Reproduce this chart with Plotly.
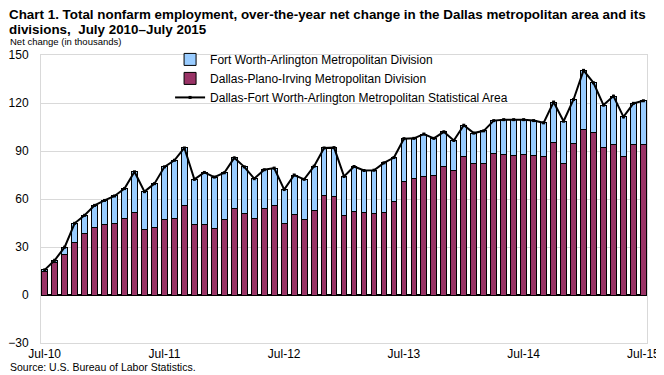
import pandas as pd
import plotly.graph_objects as go

months = [d.strftime("%b-%y") for d in pd.date_range("2010-07-01", "2015-07-01", freq="MS")]
tick_labels = ["Jul-10", "Jul-11", "Jul-12", "Jul-13", "Jul-14", "Jul-15"]

dallas = [14.7, 20.2, 25.2, 33.0, 38.2, 41.9, 43.8, 44.4, 48.1, 51.8, 40.7, 41.9, 46.9, 48.1, 56.2,
          43.8, 43.8, 41.7, 46.9, 54.3, 51.0, 47.9, 54.3, 55.7, 44.4, 50.6, 47.5, 53.1, 62.4, 61.7,
          50.0, 52.4, 51.8, 51.0, 51.8, 58.6, 71.0, 72.9, 74.1, 74.7, 80.3, 77.8, 86.5, 82.2, 82.2,
          88.4, 87.8, 87.1, 87.8, 87.1, 86.5, 95.2, 82.2, 94.6, 103.2, 101.4, 92.1, 94.0, 86.5, 94.0, 94.0]

fort_worth = [1.0, 1.5, 4.7, 11.8, 11.6, 14.1, 15.3, 17.5, 18.4, 25.2, 23.9, 27.7, 33.2, 36.1, 35.7,
              28.5, 32.8, 32.0, 29.5, 31.4, 29.1, 24.8, 24.0, 23.6, 21.5, 24.4, 24.8, 27.4, 29.5, 30.4,
              24.1, 27.9, 26.0, 27.0, 30.8, 27.3, 26.7, 25.0, 26.5, 23.2, 21.7, 18.8, 19.6, 19.0, 20.4,
              20.6, 21.8, 22.5, 21.8, 21.9, 21.1, 25.4, 26.4, 27.6, 37.2, 31.2, 26.6, 30.3, 24.8, 25.8, 27.4]

total = [15.7, 21.7, 29.9, 44.8, 49.8, 56.0, 59.1, 61.9, 66.5, 77.0, 64.6, 69.6, 80.1, 84.2, 91.9,
         72.3, 76.6, 73.7, 76.4, 85.7, 80.1, 72.7, 78.3, 79.3, 65.9, 75.0, 72.3, 80.5, 91.9, 92.1,
         74.1, 80.3, 77.8, 78.0, 82.6, 85.9, 97.7, 97.9, 100.6, 97.9, 102.0, 96.6, 106.1, 101.2, 102.6,
         109.0, 109.6, 109.6, 109.6, 109.0, 107.6, 120.6, 108.6, 122.2, 140.4, 132.6, 118.7, 124.3, 111.3, 119.8, 121.4]

FONT = "Liberation Sans, Arial, sans-serif"

fig = go.Figure()
fig.add_trace(go.Bar(x=months, y=dallas, name="Dallas-Plano-Irving Metropolitan Division",
                     marker=dict(color="#993366", line=dict(color="black", width=1)),
                     legendrank=2))
fig.add_trace(go.Bar(x=months, y=fort_worth, name="Fort Worth-Arlington Metropolitan Division",
                     marker=dict(color="#99CCFF", line=dict(color="black", width=1)),
                     legendrank=1))
fig.add_trace(go.Scatter(x=months, y=total, mode="lines+markers",
                         name="Dallas-Fort Worth-Arlington Metropolitan Statistical Area",
                         line=dict(color="black", width=2),
                         marker=dict(color="black", size=3, symbol="square"),
                         legendrank=3))

# The page body has an 8px margin, so the figure is sized to fill the rest of the window.
fig.update_layout(
    width=656, height=367,
    margin=dict(l=33, r=17, t=46.5, b=31.5),
    barmode="stack", bargap=0.42,
    plot_bgcolor="white", paper_bgcolor="white",
    font=dict(family=FONT, size=12, color="black"),
    showlegend=True,
    legend=dict(x=0.213, y=1.035, xanchor="left", yanchor="top",
                bgcolor="rgba(255,255,255,0)", font=dict(size=12, family=FONT),
                tracegroupgap=0, itemwidth=30, traceorder="normal"),
    xaxis=dict(type="category", range=[-0.37, 60.36], tickmode="array",
               tickvals=tick_labels, ticktext=tick_labels, showgrid=False,
               showline=True, linecolor="#d9d9d9", linewidth=1, mirror=True,
               ticks="", automargin=False, tickfont=dict(size=12, family=FONT)),
    yaxis=dict(range=[-30, 150], dtick=30, tick0=0, showgrid=True, gridcolor="#d9d9d9",
               gridwidth=1, showline=True, linecolor="#d9d9d9", linewidth=1, mirror=True,
               zeroline=True, zerolinecolor="black", zerolinewidth=1.5,
               ticks="", ticklabelstandoff=9, automargin=False,
               tickfont=dict(size=12, family=FONT)),
)

fig.add_annotation(xref="paper", yref="paper", x=-0.056, y=1.142, xanchor="left", yanchor="middle",
                   text="<b>Chart 1. Total nonfarm employment, over-the-year net change in the Dallas metropolitan area and its</b>",
                   showarrow=False, font=dict(family=FONT, size=13.4, color="black"))
fig.add_annotation(xref="paper", yref="paper", x=-0.056, y=1.089, xanchor="left", yanchor="middle",
                   text="<b>divisions,  July 2010–July 2015</b>",
                   showarrow=False, font=dict(family=FONT, size=13.4, color="black"))
fig.add_annotation(xref="paper", yref="paper", x=-0.054, y=1.046, xanchor="left", yanchor="middle",
                   text="Net change (in thousands)",
                   showarrow=False, font=dict(family=FONT, size=9.5, color="black"))
fig.add_annotation(xref="paper", yref="paper", x=-0.054, y=-0.085, xanchor="left", yanchor="middle",
                   text="Source: U.S. Bureau of Labor Statistics.",
                   showarrow=False, font=dict(family=FONT, size=10.5, color="black"))

fig.write_html("out.html")
